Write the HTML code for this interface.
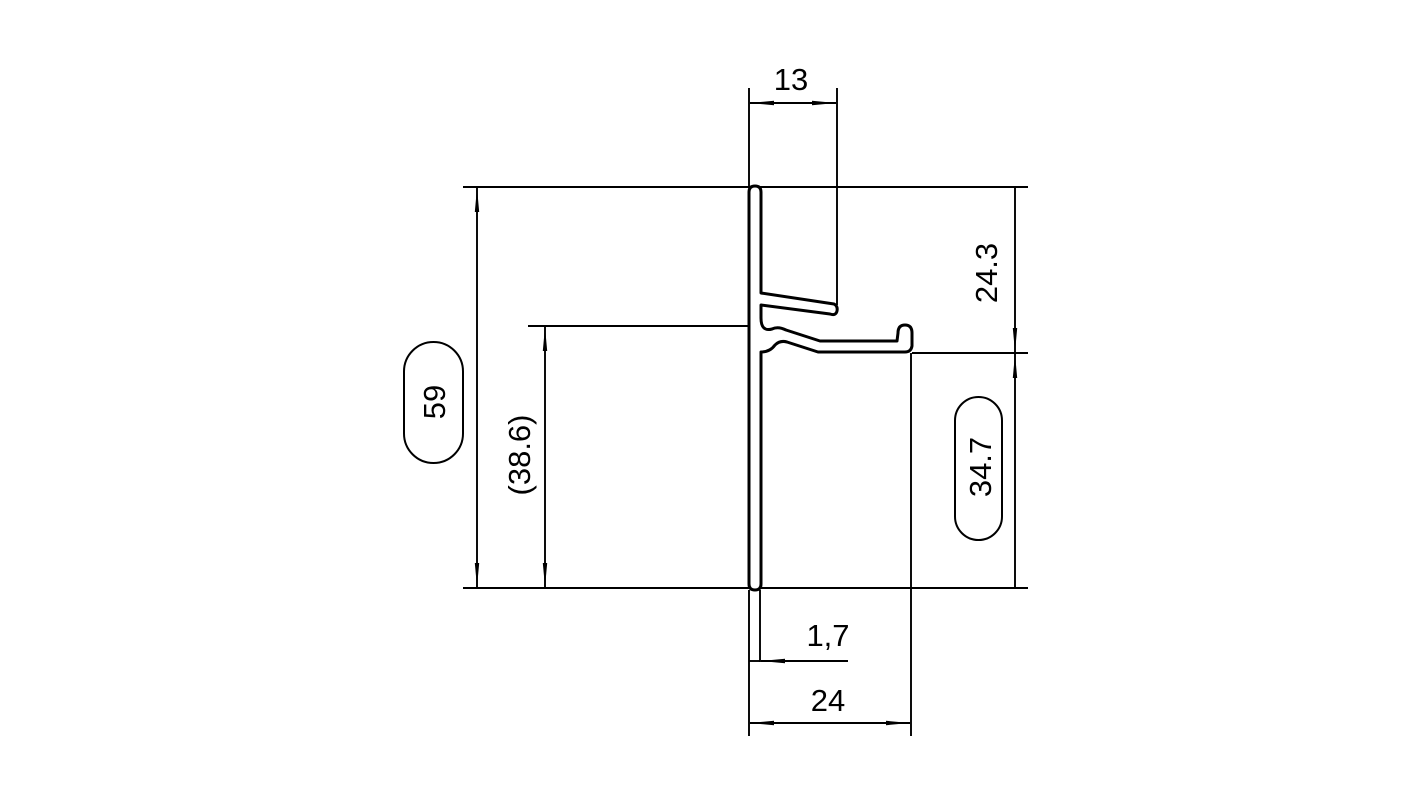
<!DOCTYPE html>
<html><head><meta charset="utf-8"><style>
html,body{margin:0;padding:0;background:#fff;}
svg{display:block;}
text{font-family:"Liberation Sans",sans-serif;font-size:31px;fill:#000;}
</style></head><body>
<svg width="1422" height="800" viewBox="0 0 1422 800" xmlns="http://www.w3.org/2000/svg">
<defs>
<marker id="a" viewBox="0 0 24 6" refX="24" refY="3" markerWidth="24" markerHeight="6" markerUnits="userSpaceOnUse" orient="auto-start-reverse">
<path d="M0,0.8 L24,3 L0,5.2 Z" fill="#000"/>
</marker>
</defs>
<g stroke="#000" stroke-width="1.9" fill="none">
<line x1="463" y1="187" x2="1028" y2="187"/>
<line x1="463" y1="588" x2="1028" y2="588"/>
<line x1="528" y1="326" x2="750" y2="326"/>
<line x1="912" y1="353" x2="1028" y2="353"/>
<line x1="749" y1="88" x2="749" y2="187"/>
<line x1="837" y1="88" x2="837" y2="305"/>
<line x1="749" y1="590" x2="749" y2="736"/>
<line x1="911" y1="353" x2="911" y2="736"/>
<line x1="760" y1="590" x2="760" y2="662"/>
<line x1="477" y1="188" x2="477" y2="587" marker-start="url(#a)" marker-end="url(#a)"/>
<line x1="545" y1="327" x2="545" y2="587" marker-start="url(#a)" marker-end="url(#a)"/>
<line x1="1015" y1="188" x2="1015" y2="352" marker-end="url(#a)"/>
<line x1="1015" y1="588" x2="1015" y2="354" marker-end="url(#a)"/>
<line x1="750" y1="103" x2="836" y2="103" marker-start="url(#a)" marker-end="url(#a)"/>
<line x1="848" y1="661" x2="761" y2="661" marker-end="url(#a)"/>
<line x1="750" y1="723" x2="910" y2="723" marker-start="url(#a)" marker-end="url(#a)"/>
<line x1="749" y1="661" x2="760" y2="661"/>
<rect x="404" y="342" width="59" height="121" rx="29.5" stroke-width="2"/>
<rect x="955" y="397" width="47" height="143" rx="23.5" stroke-width="2"/>
</g>
<path d="M749,192 Q749,186 755,186 Q761,186 761,192 L761,293 L834,304 Q838,306 837,311 Q836,316 830,314 L761,305 L761,318 Q761,332 772,329 Q778,326 786,330 L820,341 L897,341 L898,333 Q898,325 905,325 Q912,325 912,333 L912,346 Q911,352 905,352 L818,352 L787,342 Q780,340 775,345 Q770,352 761,352 L761,584 Q761,590 755,590 Q749,590 749,584 Z" fill="#fff" stroke="#000" stroke-width="3" stroke-linejoin="round"/>
<text x="791" y="90" text-anchor="middle">13</text>
<text x="828" y="646" text-anchor="middle">1,7</text>
<text x="828" y="711" text-anchor="middle">24</text>
<text transform="translate(445,402) rotate(-90)" text-anchor="middle">59</text>
<text transform="translate(530,455) rotate(-90)" text-anchor="middle">(38.6)</text>
<text transform="translate(997,273) rotate(-90)" text-anchor="middle">24.3</text>
<text transform="translate(991,467) rotate(-90)" text-anchor="middle">34.7</text>
</svg>
</body></html>
